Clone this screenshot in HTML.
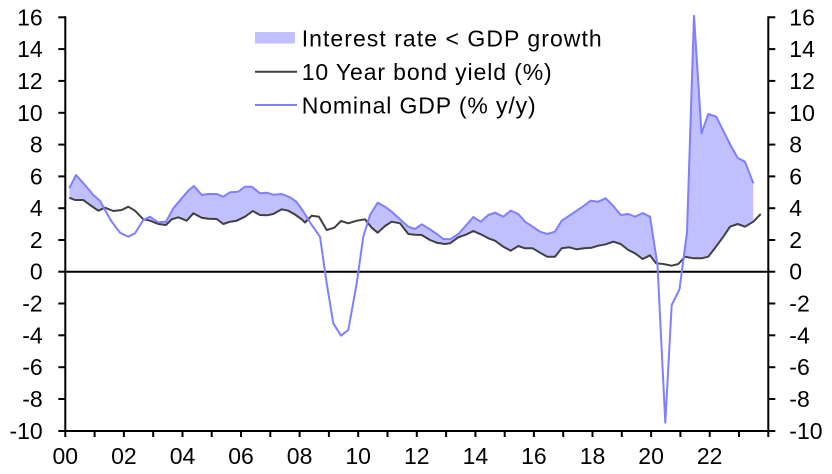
<!DOCTYPE html>
<html>
<head>
<meta charset="utf-8">
<style>
  html, body { margin: 0; padding: 0; background: #ffffff; }
  svg { display: block; }
  text { font-family: "Liberation Sans", Arial, sans-serif; fill: #000; }
</style>
</head>
<body>
<svg width="832" height="474" viewBox="0 0 832 474" xmlns="http://www.w3.org/2000/svg">
  <defs>
    <clipPath id="aboveBond">
      <polygon points="69.3,197.7 75,200 83.3,200 90,205 98.3,210.7 105,207.7 113.3,211 121.7,210 128.3,206.7 135,210.7 143.3,219.3 150,220.7 158.3,224 166,225 171.7,219.3 178.3,217.3 186.7,220.7 193.3,213.3 201.7,217.7 208.3,218.7 216.7,219 223.3,224 230,221.7 236.7,220.7 245,216.7 252.7,211 260,215 266.7,215.3 273.3,214 281.7,209.3 288.3,210.7 295,214.5 301.7,219.3 305,222.5 311.7,215.7 319,216.7 326.7,230 334.3,227.7 341,221 348.3,223.3 356.7,220.7 365,219.3 371.7,227.7 377.7,232.7 385,226 391.7,221.7 400,223.3 408.3,234 415,234.7 421.7,235 430,240 436.7,242.7 445,244 450,243.3 458.3,237.3 466.7,234.3 473.3,231 480.7,234.3 488.3,238.3 495,240.7 503.3,246.7 510.7,250.7 518.3,246 525,248.3 532.7,248.3 540,252.7 547.3,256.7 555,256.7 561.7,248.3 569.3,247.3 576.7,249.3 584,248.3 591.7,247.7 598.3,245.7 605.7,244.3 613.3,241.7 620.7,244 628.3,250 635,253.3 642.7,259 650,255.3 656,263.3 663.3,264 671.7,265.7 678.3,264 685,256.7 693.3,258.3 701.7,258.3 708.3,256.7 716,246.7 723.3,236.7 730,226.7 737.7,224 745,226.7 753.3,221.7 760.7,214 760.7,0 69.3,0"/>
    </clipPath>
  </defs>

  <!-- Fill: interest rate < GDP growth -->
  <polygon clip-path="url(#aboveBond)" fill="#c0c0ff" stroke="none"
    points="69.3,188.3 76,175 85,185 93.3,195 100,200.7 105,210 111.7,221.7 120,232.7 128.3,236.7 135,233.3 143.3,220 150,216.7 158.3,222.3 166,221.7 173.3,208.3 181.7,198.3 188.3,190.7 194,186 201.7,195 208.3,194 216.7,194 223.3,196.7 230,192.3 238.3,191.7 245,186.7 251.7,186.7 260,193.3 266.7,192.7 273.3,194.7 281.7,194 290,197.3 296.7,202 304,212.5 311.7,225 320,236.7 326.7,283.3 333.3,323.3 341,335.7 348.3,330 356.7,283.3 363.3,236.7 370,215 377.7,202.7 385,206.7 391.7,211.7 400,219.3 408.3,226.7 415,229 421.7,224.3 430,229.3 436.7,234 443.3,239 450,239.3 458.3,234 465,226.7 473.3,217 480.7,221.7 488.3,215 495,212.7 503.3,216.7 510.7,210.7 518.3,214 525,221.7 532.7,226.7 540,231.7 547.3,234 555,231.7 561.7,220.7 569.3,215.7 576.7,210.7 584,205.7 590.7,200.7 598.3,201.7 605.7,198.3 613.3,206 620.7,215 628.3,214 635,216.7 642.7,213 650,216.7 657.5,265 665.3,422.7 671.7,305 679.5,289.3 687,232 694,15.7 701.5,133.3 708.3,114 716.3,116.7 723.7,131.7 730.7,145.5 737.7,158 745,161.7 753.3,183.3 753.3,474 69.3,474"/>

  <!-- Zero line -->
  <line x1="65.3" y1="271.7" x2="768.3" y2="271.7" stroke="#000" stroke-width="2"/>

  <!-- Bond yield -->
  <polyline fill="none" stroke="#404040" stroke-width="2" stroke-linejoin="round"
    points="69.3,197.7 75,200 83.3,200 90,205 98.3,210.7 105,207.7 113.3,211 121.7,210 128.3,206.7 135,210.7 143.3,219.3 150,220.7 158.3,224 166,225 171.7,219.3 178.3,217.3 186.7,220.7 193.3,213.3 201.7,217.7 208.3,218.7 216.7,219 223.3,224 230,221.7 236.7,220.7 245,216.7 252.7,211 260,215 266.7,215.3 273.3,214 281.7,209.3 288.3,210.7 295,214.5 301.7,219.3 305,222.5 311.7,215.7 319,216.7 326.7,230 334.3,227.7 341,221 348.3,223.3 356.7,220.7 365,219.3 371.7,227.7 377.7,232.7 385,226 391.7,221.7 400,223.3 408.3,234 415,234.7 421.7,235 430,240 436.7,242.7 445,244 450,243.3 458.3,237.3 466.7,234.3 473.3,231 480.7,234.3 488.3,238.3 495,240.7 503.3,246.7 510.7,250.7 518.3,246 525,248.3 532.7,248.3 540,252.7 547.3,256.7 555,256.7 561.7,248.3 569.3,247.3 576.7,249.3 584,248.3 591.7,247.7 598.3,245.7 605.7,244.3 613.3,241.7 620.7,244 628.3,250 635,253.3 642.7,259 650,255.3 656,263.3 663.3,264 671.7,265.7 678.3,264 685,256.7 693.3,258.3 701.7,258.3 708.3,256.7 716,246.7 723.3,236.7 730,226.7 737.7,224 745,226.7 753.3,221.7 760.7,214"/>

  <!-- Nominal GDP -->
  <polyline fill="none" stroke="#7f7fff" stroke-width="2" stroke-linejoin="round"
    points="69.3,188.3 76,175 85,185 93.3,195 100,200.7 105,210 111.7,221.7 120,232.7 128.3,236.7 135,233.3 143.3,220 150,216.7 158.3,222.3 166,221.7 173.3,208.3 181.7,198.3 188.3,190.7 194,186 201.7,195 208.3,194 216.7,194 223.3,196.7 230,192.3 238.3,191.7 245,186.7 251.7,186.7 260,193.3 266.7,192.7 273.3,194.7 281.7,194 290,197.3 296.7,202 304,212.5 311.7,225 320,236.7 326.7,283.3 333.3,323.3 341,335.7 348.3,330 356.7,283.3 363.3,236.7 370,215 377.7,202.7 385,206.7 391.7,211.7 400,219.3 408.3,226.7 415,229 421.7,224.3 430,229.3 436.7,234 443.3,239 450,239.3 458.3,234 465,226.7 473.3,217 480.7,221.7 488.3,215 495,212.7 503.3,216.7 510.7,210.7 518.3,214 525,221.7 532.7,226.7 540,231.7 547.3,234 555,231.7 561.7,220.7 569.3,215.7 576.7,210.7 584,205.7 590.7,200.7 598.3,201.7 605.7,198.3 613.3,206 620.7,215 628.3,214 635,216.7 642.7,213 650,216.7 657.5,265 665.3,422.7 671.7,305 679.5,289.3 687,232 694,15.7 701.5,133.3 708.3,114 716.3,116.7 723.7,131.7 730.7,145.5 737.7,158 745,161.7 753.3,183.3"/>

  <!-- Axes -->
  <g stroke="#000" stroke-width="2" fill="none">
    <line x1="65.3" y1="16.3" x2="65.3" y2="432"/>
    <line x1="768.3" y1="16.3" x2="768.3" y2="432"/>
    <line x1="64.3" y1="431" x2="769.3" y2="431"/>
  </g>

  <!-- Y ticks -->
  <g stroke="#000" stroke-width="2">
    <line x1="58.3" y1="17.3" x2="65.3" y2="17.3"/><line x1="768.3" y1="17.3" x2="775.3" y2="17.3"/>
    <line x1="58.3" y1="49.1" x2="65.3" y2="49.1"/><line x1="768.3" y1="49.1" x2="775.3" y2="49.1"/>
    <line x1="58.3" y1="80.9" x2="65.3" y2="80.9"/><line x1="768.3" y1="80.9" x2="775.3" y2="80.9"/>
    <line x1="58.3" y1="112.8" x2="65.3" y2="112.8"/><line x1="768.3" y1="112.8" x2="775.3" y2="112.8"/>
    <line x1="58.3" y1="144.6" x2="65.3" y2="144.6"/><line x1="768.3" y1="144.6" x2="775.3" y2="144.6"/>
    <line x1="58.3" y1="176.4" x2="65.3" y2="176.4"/><line x1="768.3" y1="176.4" x2="775.3" y2="176.4"/>
    <line x1="58.3" y1="208.2" x2="65.3" y2="208.2"/><line x1="768.3" y1="208.2" x2="775.3" y2="208.2"/>
    <line x1="58.3" y1="240.0" x2="65.3" y2="240.0"/><line x1="768.3" y1="240.0" x2="775.3" y2="240.0"/>
    <line x1="58.3" y1="271.7" x2="65.3" y2="271.7"/><line x1="768.3" y1="271.7" x2="775.3" y2="271.7"/>
    <line x1="58.3" y1="303.5" x2="65.3" y2="303.5"/><line x1="768.3" y1="303.5" x2="775.3" y2="303.5"/>
    <line x1="58.3" y1="335.3" x2="65.3" y2="335.3"/><line x1="768.3" y1="335.3" x2="775.3" y2="335.3"/>
    <line x1="58.3" y1="367.2" x2="65.3" y2="367.2"/><line x1="768.3" y1="367.2" x2="775.3" y2="367.2"/>
    <line x1="58.3" y1="399.0" x2="65.3" y2="399.0"/><line x1="768.3" y1="399.0" x2="775.3" y2="399.0"/>
    <line x1="58.3" y1="431" x2="65.3" y2="431"/><line x1="768.3" y1="431" x2="775.3" y2="431"/>
  </g>

  <!-- X ticks (every year) -->
  <g stroke="#000" stroke-width="2">
    <line x1="65.3" y1="431" x2="65.3" y2="437"/>
    <line x1="94.6" y1="431" x2="94.6" y2="437"/>
    <line x1="123.9" y1="431" x2="123.9" y2="437"/>
    <line x1="153.2" y1="431" x2="153.2" y2="437"/>
    <line x1="182.5" y1="431" x2="182.5" y2="437"/>
    <line x1="211.7" y1="431" x2="211.7" y2="437"/>
    <line x1="241.0" y1="431" x2="241.0" y2="437"/>
    <line x1="270.3" y1="431" x2="270.3" y2="437"/>
    <line x1="299.6" y1="431" x2="299.6" y2="437"/>
    <line x1="328.9" y1="431" x2="328.9" y2="437"/>
    <line x1="358.2" y1="431" x2="358.2" y2="437"/>
    <line x1="387.5" y1="431" x2="387.5" y2="437"/>
    <line x1="416.8" y1="431" x2="416.8" y2="437"/>
    <line x1="446.1" y1="431" x2="446.1" y2="437"/>
    <line x1="475.4" y1="431" x2="475.4" y2="437"/>
    <line x1="504.7" y1="431" x2="504.7" y2="437"/>
    <line x1="533.9" y1="431" x2="533.9" y2="437"/>
    <line x1="563.2" y1="431" x2="563.2" y2="437"/>
    <line x1="592.5" y1="431" x2="592.5" y2="437"/>
    <line x1="621.8" y1="431" x2="621.8" y2="437"/>
    <line x1="651.1" y1="431" x2="651.1" y2="437"/>
    <line x1="680.4" y1="431" x2="680.4" y2="437"/>
    <line x1="709.7" y1="431" x2="709.7" y2="437"/>
    <line x1="739.0" y1="431" x2="739.0" y2="437"/>
    <line x1="768.3" y1="431" x2="768.3" y2="437"/>
  </g>

  <!-- Left Y labels -->
  <g font-size="23" text-anchor="end">
    <text x="42.7" y="25.3">16</text>
    <text x="42.7" y="57.1">14</text>
    <text x="42.7" y="88.9">12</text>
    <text x="42.7" y="120.8">10</text>
    <text x="42.7" y="152.6">8</text>
    <text x="42.7" y="184.4">6</text>
    <text x="42.7" y="216.2">4</text>
    <text x="42.7" y="248.0">2</text>
    <text x="42.7" y="279.7">0</text>
    <text x="42.7" y="311.5">-2</text>
    <text x="42.7" y="343.3">-4</text>
    <text x="42.7" y="375.2">-6</text>
    <text x="42.7" y="407.0">-8</text>
    <text x="42.7" y="439">-10</text>
  </g>

  <!-- Right Y labels -->
  <g font-size="23" text-anchor="start">
    <text x="789.3" y="25.3">16</text>
    <text x="789.3" y="57.1">14</text>
    <text x="789.3" y="88.9">12</text>
    <text x="789.3" y="120.8">10</text>
    <text x="789.3" y="152.6">8</text>
    <text x="789.3" y="184.4">6</text>
    <text x="789.3" y="216.2">4</text>
    <text x="789.3" y="248.0">2</text>
    <text x="789.3" y="279.7">0</text>
    <text x="789.3" y="311.5">-2</text>
    <text x="789.3" y="343.3">-4</text>
    <text x="789.3" y="375.2">-6</text>
    <text x="789.3" y="407.0">-8</text>
    <text x="789.3" y="439">-10</text>
  </g>

  <!-- X labels -->
  <g font-size="23" text-anchor="middle">
    <text x="65.3" y="464">00</text>
    <text x="123.9" y="464">02</text>
    <text x="182.5" y="464">04</text>
    <text x="241.0" y="464">06</text>
    <text x="299.6" y="464">08</text>
    <text x="358.2" y="464">10</text>
    <text x="416.8" y="464">12</text>
    <text x="475.4" y="464">14</text>
    <text x="533.9" y="464">16</text>
    <text x="592.5" y="464">18</text>
    <text x="651.1" y="464">20</text>
    <text x="709.7" y="464">22</text>
  </g>

  <!-- Legend -->
  <rect x="255" y="32" width="40" height="11.5" fill="#c0c0ff"/>
  <line x1="255" y1="71.7" x2="297" y2="71.7" stroke="#404040" stroke-width="2"/>
  <line x1="255" y1="105" x2="297" y2="105" stroke="#7f7fff" stroke-width="2"/>
  <g font-size="23">
    <text x="301.7" y="46.7" textLength="300" lengthAdjust="spacing">Interest rate &lt; GDP growth</text>
    <text x="301.7" y="80" textLength="250" lengthAdjust="spacing">10 Year bond yield (%)</text>
    <text x="301.7" y="113.3" textLength="234" lengthAdjust="spacing">Nominal GDP (% y/y)</text>
  </g>
</svg>
</body>
</html>
